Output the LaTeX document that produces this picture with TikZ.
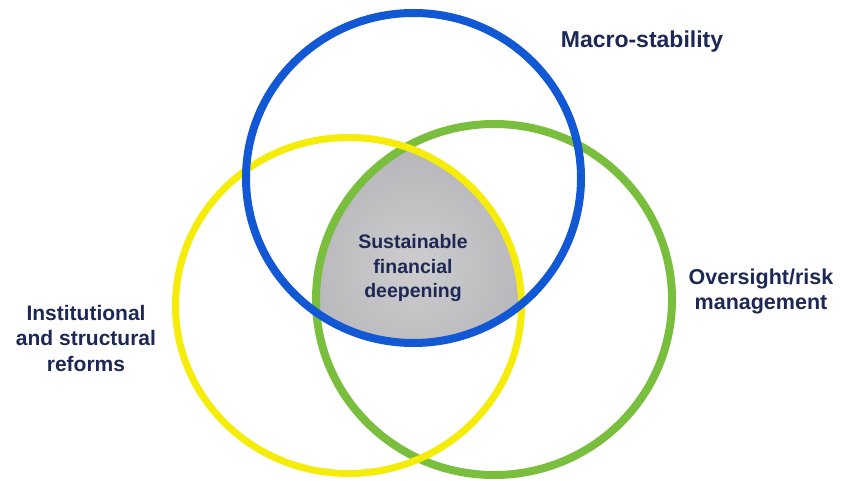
\documentclass[tikz,border=0pt]{standalone}
\usepackage{fontspec}
\setmainfont{Liberation Sans}
\definecolor{cblue}{RGB}{18,88,212}
\definecolor{cyellow}{RGB}{246,236,10}
\definecolor{cgreen}{RGB}{122,190,62}
\definecolor{navy}{RGB}{30,40,85}
\definecolor{grayin}{RGB}{205,205,207}
\definecolor{grayout}{RGB}{182,182,186}
\tikzset{
  lbl/.style={text=navy, align=center, font=\bfseries\fontsize{21}{25.5}\selectfont, inner sep=0pt},
  ring/.style={line width=8pt},
}
\begin{document}
\begin{tikzpicture}[x=1pt,y=-1pt]
\useasboundingbox (0,0) rectangle (842,481);
\fill[white] (0,0) rectangle (842,481);
% common region
\begin{scope}
  \clip (413.5,178) ellipse [x radius=167.5, y radius=165];
  \clip (348.5,305.5) ellipse [x radius=173, y radius=168];
  \clip (494,299.5) ellipse [x radius=178, y radius=175.5];
  \fill[grayout] (300,100) rectangle (560,360);
  \shade[inner color=grayin, outer color=grayout] (415,265) circle [radius=120];
\end{scope}
% rings
\draw[ring, cgreen] (494,299.5) ellipse [x radius=178, y radius=175.5];
\draw[ring, cyellow, line width=7pt] (348.5,305.5) ellipse [x radius=173, y radius=168];
\draw[ring, cblue] (413.5,178) ellipse [x radius=167.5, y radius=165];
% labels
\node[lbl, font=\bfseries\fontsize{23}{27}\selectfont] (macro) at (642,42) {Macro-stability};
\node[lbl] (inst) at (86,338) {Institutional\\and structural\\reforms};
\node[lbl, font=\bfseries\fontsize{21.5}{25}\selectfont] (over) at (761,291) {Oversight/risk\\management};
\node[lbl, font=\bfseries\fontsize{19.5}{24.5}\selectfont] (sfd) at (413,268) {Sustainable\\financial\\deepening};
\end{tikzpicture}
\end{document}
